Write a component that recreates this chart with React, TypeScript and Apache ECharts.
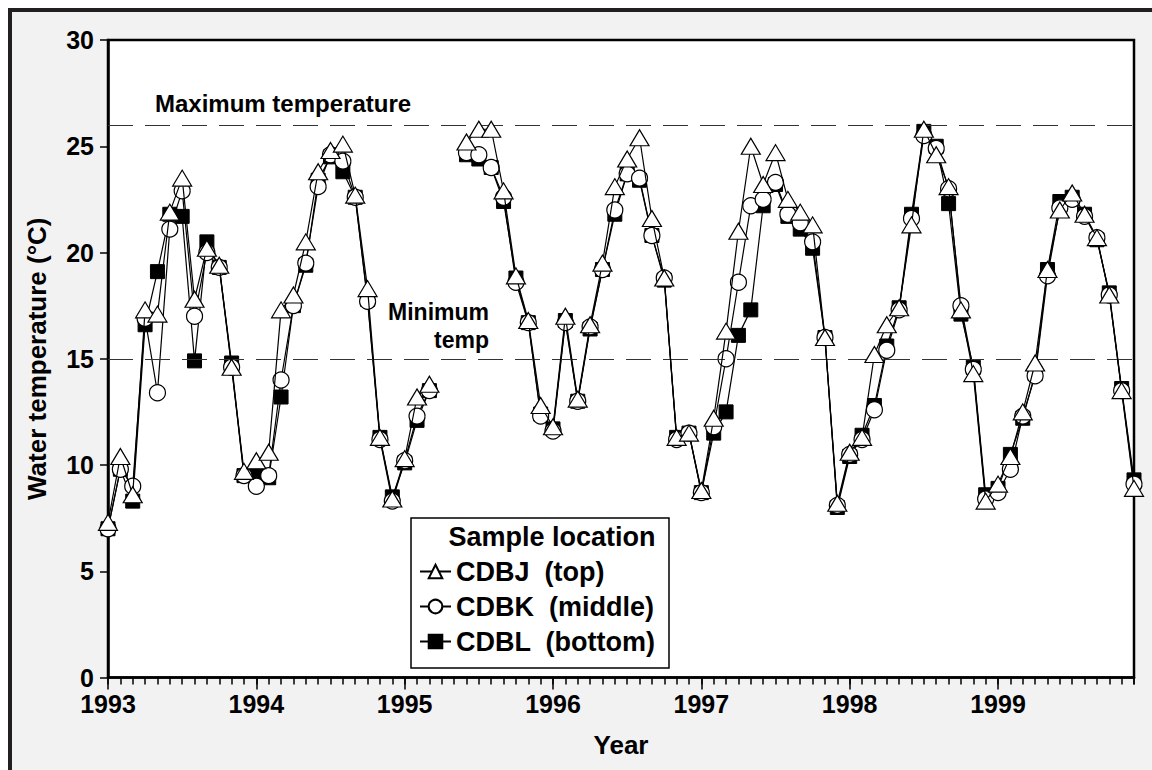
import React, { useEffect, useRef } from "react";
import * as echarts from "echarts";

const START_YEAR = 1993;
const YEAR_TICKS = [1993, 1994, 1995, 1996, 1997, 1998, 1999];
const SERIES_NAMES = ["CDBJ  (top)", "CDBK  (middle)", "CDBL  (bottom)"];
const MAX_TEMP = 26;
const MIN_TEMP = 15;

// monthly samples, Jan 1993 .. Dec 1999 (null = no sample)
const CDBJ = [
  7.3, 10.4, 8.6, 17.3, 17.1, 21.9, 23.5, 17.8, 20.2, 19.4, 14.6, 9.7,
  10.2, 10.6, 17.3, 18.0, 20.5, 23.8, 24.8, 25.1, 22.7, 18.3, 11.3, 8.4,
  10.3, 13.2, 13.8, null, null, 25.2, 25.8, 25.8, 22.9, 18.9, 16.8, 12.8,
  11.8, 17.0, 13.1, 16.6, 19.5, 23.1, 24.4, 25.4, 21.6, 18.8, 11.3, 11.5,
  8.8, 12.2, 16.3, 21.0, 25.0, 23.2, 24.7, 22.5, 21.9, 21.3, 16.0, 8.2,
  10.6, 11.3, 15.2, 16.6, 17.4, 21.3, 25.8, 24.6, 23.1, 17.3, 14.3, 8.3,
  9.1, 10.4, 12.5, 14.8, 19.2, 22.0, 22.8, 21.8, 20.7, 18.0, 13.5, 8.9,
];
const CDBK = [
  7.0, 9.8, 9.0, 16.9, 13.4, 21.1, 22.9, 17.0, 20.0, 19.3, 14.6, 9.5,
  9.0, 9.5, 14.0, 17.5, 19.5, 23.1, 24.6, 24.3, 22.6, 17.7, 11.2, 8.3,
  10.2, 12.3, 13.5, null, null, 24.7, 24.6, 24.0, 22.6, 18.6, 16.7, 12.3,
  11.6, 16.7, 13.0, 16.5, 19.2, 22.0, 23.7, 23.5, 20.8, 18.8, 11.2, 11.5,
  8.7, 11.8, 15.0, 18.6, 22.2, 22.5, 23.3, 21.8, 21.4, 20.5, 16.0, 8.1,
  10.5, 11.2, 12.6, 15.4, 17.3, 21.6, 25.5, 24.9, 23.0, 17.5, 14.5, 8.4,
  8.7, 9.8, 12.3, 14.2, 18.9, 22.1, 22.5, 21.7, 20.7, 18.0, 13.5, 9.1,
];
const CDBL = [
  7.0, 9.8, 8.3, 16.6, 19.1, 21.8, 21.7, 14.9, 20.5, 19.3, 14.8, 9.5,
  9.6, 9.4, 13.2, 17.5, 19.4, 23.4, 24.5, 23.8, 22.6, 17.8, 11.3, 8.5,
  10.1, 12.1, 13.5, null, null, 24.6, 24.4, 24.0, 22.4, 18.8, 16.7, 12.4,
  11.7, 16.8, 13.0, 16.4, 19.2, 21.8, 23.7, 23.4, 20.8, 18.7, 11.3, 11.5,
  8.7, 11.5, 12.5, 16.1, 17.3, 22.2, 23.2, 21.7, 21.1, 20.2, 16.0, 8.0,
  10.4, 11.4, 12.8, 15.6, 17.4, 21.8, 25.7, 25.0, 22.3, 17.1, 14.6, 8.6,
  8.9, 10.5, 12.2, 14.3, 19.2, 22.4, 22.6, 21.8, 20.6, 18.1, 13.6, 9.3,
];

const FONT = '"Liberation Sans", Arial, Helvetica, sans-serif';

const toPairs = (vals: (number | null)[]) =>
  vals.map((v, i) => [START_YEAR + i / 12, v]);

export default function App() {
  const ref = useRef<HTMLDivElement>(null);
  useEffect(() => {
    if (!ref.current) return;
    const chart = echarts.init(ref.current, undefined, { renderer: "svg" });
    const xMin = START_YEAR;
    const xMax = START_YEAR + (CDBJ.length - 1) / 12;
    const lineStyle = { color: "#000", width: 1.2 };
    const option: any = {
      animation: false,
      backgroundColor: "#ffffff",
      textStyle: { fontFamily: FONT },
      grid: {
        left: 108,
        right: 18,
        top: 40,
        bottom: 92.5,
        show: true,
        backgroundColor: "#ffffff",
        borderColor: "#000",
        borderWidth: 2.5,
      },
      xAxis: [
        {
          type: "value",
          min: xMin,
          max: xMax,
          interval: 1,
          position: "bottom",
          axisLine: { onZero: false, lineStyle: { color: "#000", width: 2.5 } },
          axisTick: {
            length: 12,
            customValues: YEAR_TICKS,
            lineStyle: { color: "#000", width: 1.5 },
          },
          axisLabel: {
            customValues: YEAR_TICKS,
            formatter: (v: number) => String(v),
            fontSize: 25,
            fontWeight: "bold",
            color: "#000",
            margin: 14,
            fontFamily: FONT,
          },
          splitLine: { show: false },
          name: "Year",
          nameLocation: "middle",
          nameGap: 54,
          nameTextStyle: { fontSize: 26, fontWeight: "bold", color: "#000", fontFamily: FONT },
        },
        {
          type: "value",
          min: xMin,
          max: xMax,
          interval: 1 / 12,
          position: "bottom",
          axisLine: { show: false, onZero: false },
          axisTick: { length: 7, lineStyle: { color: "#000", width: 1.5 } },
          axisLabel: { show: false },
          splitLine: { show: false },
        },
      ],
      yAxis: {
        type: "value",
        min: 0,
        max: 30,
        interval: 5,
        axisLine: { show: true, lineStyle: { color: "#000", width: 2.5 } },
        axisTick: { show: true, length: 8, lineStyle: { color: "#000", width: 1.5 } },
        axisLabel: { fontSize: 25, fontWeight: "bold", color: "#000", margin: 14, fontFamily: FONT },
        splitLine: { show: false },
        name: "Water temperature (°C)",
        nameLocation: "middle",
        nameGap: 58,
        nameRotate: 90,
        nameTextStyle: { fontSize: 26, fontWeight: "bold", color: "#000", fontFamily: FONT },
      },
      legend: {
        orient: "vertical",
        left: 419,
        top: 558,
        padding: 0,
        itemWidth: 31,
        itemHeight: 17,
        itemGap: 8,
        z: 10,
        selectedMode: false,
        textStyle: { fontSize: 27, lineHeight: 27, fontWeight: "bold", color: "#000", fontFamily: FONT },
        data: SERIES_NAMES,
      },
      graphic: [
        {
          type: "rect",
          z: -100,
          silent: true,
          shape: { x: 10, y: 10, width: 1160, height: 800 },
          style: { fill: "#f2f2f2", stroke: "#231f20", lineWidth: 4 },
        },
        {
          type: "rect",
          z: 8,
          silent: true,
          shape: { x: 411, y: 518, width: 258, height: 150 },
          style: { fill: "#ffffff", stroke: "#000", lineWidth: 1.5 },
        },
        {
          type: "text",
          z: 9,
          x: 552,
          y: 537,
          style: {
            text: "Sample location",
            fontSize: 27,
            fontWeight: "bold",
            fontFamily: FONT,
            fill: "#000",
            align: "center",
            verticalAlign: "middle",
          },
        },
        {
          type: "text",
          z: 9,
          x: 155,
          y: 103,
          style: {
            text: "Maximum temperature",
            fontSize: 24,
            fontWeight: "bold",
            fontFamily: FONT,
            fill: "#000",
            align: "left",
            verticalAlign: "middle",
          },
        },
        {
          type: "text",
          z: 9,
          x: 489,
          y: 298,
          style: {
            text: "Minimum\ntemp",
            fontSize: 23,
            fontWeight: "bold",
            fontFamily: FONT,
            fill: "#000",
            align: "right",
            verticalAlign: "top",
            lineHeight: 28,
          },
        },
      ],
      series: [
        {
          name: SERIES_NAMES[0],
          type: "line",
          xAxisIndex: 0,
          data: toPairs(CDBJ),
          symbol: "triangle",
          symbolSize: [19, 16],
          showAllSymbol: true,
          connectNulls: false,
          z: 5,
          itemStyle: { color: "#fff", borderColor: "#000", borderWidth: 1.2 },
          lineStyle,
        },
        {
          name: SERIES_NAMES[1],
          type: "line",
          xAxisIndex: 0,
          data: toPairs(CDBK),
          symbol: "circle",
          symbolSize: 16,
          showAllSymbol: true,
          connectNulls: false,
          z: 4,
          itemStyle: { color: "#fff", borderColor: "#000", borderWidth: 1.2 },
          lineStyle,
        },
        {
          name: SERIES_NAMES[2],
          type: "line",
          xAxisIndex: 0,
          data: toPairs(CDBL),
          symbol: "rect",
          symbolSize: 14,
          showAllSymbol: true,
          connectNulls: false,
          z: 3,
          itemStyle: { color: "#000", borderColor: "#000", borderWidth: 1 },
          lineStyle,
          markLine: {
            silent: true,
            symbol: ["none", "none"],
            label: { show: false },
            lineStyle: { color: "#333", width: 1.2, type: [25, 12] },
            data: [{ yAxis: MAX_TEMP }, { yAxis: MIN_TEMP }],
          },
        },
      ],
    };
    chart.setOption(option);
    return () => chart.dispose();
  }, []);
  return (
    <div
      ref={ref}
      style={{ position: "fixed", left: 0, top: 0, width: 1152, height: 770 }}
    />
  );
}
